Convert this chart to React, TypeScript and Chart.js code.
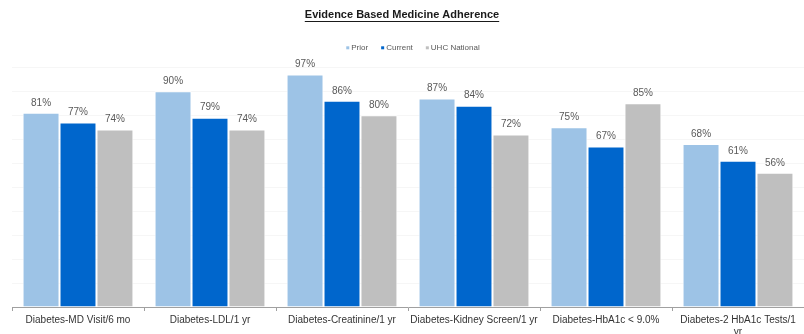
import React, { useEffect, useRef } from "react";
import { Chart, registerables } from "chart.js";

Chart.register(...registerables);

const FONT = '"Liberation Sans", Arial, Helvetica, sans-serif';

const chartTitle = "Evidence Based Medicine Adherence";
const categories: (string | string[])[] = [
  "Diabetes-MD Visit/6 mo",
  "Diabetes-LDL/1 yr",
  "Diabetes-Creatinine/1 yr",
  "Diabetes-Kidney Screen/1 yr",
  "Diabetes-HbA1c < 9.0%",
  ["Diabetes-2 HbA1c Tests/1", "yr"],
];
const seriesNames = ["Prior", "Current", "UHC National"];
const priorValues = [81, 90, 97, 87, 75, 68];
const currentValues = [77, 79, 86, 84, 67, 61];
const nationalValues = [74, 74, 80, 72, 85, 56];
const seriesColors = ["#9DC3E6", "#0066CC", "#BFBFBF"];

// Underline under the chart title
const titleUnderline = {
  id: "titleUnderline",
  afterDraw(chart: any) {
    const tb = chart.titleBlock;
    if (!tb) return;
    const opts = chart.options.plugins.title;
    const ctx = chart.ctx;
    ctx.save();
    ctx.font = `bold ${opts.font.size}px ${FONT}`;
    const w = ctx.measureText(chartTitle).width;
    const cx = (tb.left + tb.right) / 2;
    const midY = tb.top + opts.padding.top + (opts.font.size * 1.2) / 2;
    const y = Math.round(midY + opts.font.size * 0.55) + 0.5;
    ctx.strokeStyle = "#1a1a1a";
    ctx.lineWidth = 1;
    ctx.beginPath();
    ctx.moveTo(cx - w / 2, y);
    ctx.lineTo(cx + w / 2, y);
    ctx.stroke();
    ctx.restore();
  },
};

// Compact legend row with tiny square markers
const legendRow = {
  id: "legendRow",
  afterDraw(chart: any) {
    const ctx = chart.ctx;
    const area = chart.chartArea;
    ctx.save();
    ctx.font = `8px ${FONT}`;
    ctx.textBaseline = "middle";
    ctx.textAlign = "left";
    const box = 3;
    const gap = 2;
    const spacing = 13;
    const items = chart.data.datasets.map((ds: any) => ({
      label: ds.label as string,
      color: ds.backgroundColor as string,
      w: box + gap + ctx.measureText(ds.label).width,
    }));
    const total =
      items.reduce((s: number, it: any) => s + it.w, 0) +
      spacing * (items.length - 1);
    let x = (area.left + area.right) / 2 + 5 - total / 2;
    const y = area.top - 19.5;
    for (const it of items) {
      ctx.fillStyle = it.color;
      ctx.fillRect(x, y - box / 2, box, box);
      ctx.fillStyle = "#595959";
      ctx.fillText(it.label, x + box + gap, y);
      x += it.w + spacing;
    }
    ctx.restore();
  },
};

// Percentage labels above each bar
const valueLabels = {
  id: "valueLabels",
  afterDatasetsDraw(chart: any) {
    const ctx = chart.ctx;
    ctx.save();
    ctx.font = `10px ${FONT}`;
    ctx.fillStyle = "#595959";
    ctx.textAlign = "center";
    ctx.textBaseline = "bottom";
    chart.data.datasets.forEach((ds: any, i: number) => {
      const meta = chart.getDatasetMeta(i);
      meta.data.forEach((bar: any, j: number) => {
        ctx.fillText(`${ds.data[j]}%`, bar.x, bar.y - 5);
      });
    });
    ctx.restore();
  },
};

export default function App() {
  const canvasRef = useRef<HTMLCanvasElement | null>(null);

  useEffect(() => {
    if (!canvasRef.current) return;
    const seriesData = [priorValues, currentValues, nationalValues];
    const chart = new Chart(canvasRef.current, {
      type: "bar",
      data: {
        labels: categories,
        datasets: seriesNames.map((name, i) => ({
          label: name,
          data: seriesData[i],
          backgroundColor: seriesColors[i],
          borderColor: "#ffffff",
          borderWidth: 1,
          barPercentage: 1,
          categoryPercentage: 0.84,
        })),
      },
      options: {
        animation: false,
        responsive: true,
        maintainAspectRatio: false,
        layout: { padding: { left: 0, right: 0, top: 0, bottom: 0 } },
        plugins: {
          legend: { display: false },
          tooltip: { enabled: false },
          title: {
            display: true,
            text: chartTitle,
            color: "#1a1a1a",
            font: { family: FONT, size: 11, weight: "bold", lineHeight: 1.2 },
            padding: { top: 8.4, bottom: 45.7 },
          },
        },
        scales: {
          x: {
            grid: {
              display: true,
              drawOnChartArea: false,
              drawTicks: true,
              tickLength: 4,
              color: "#A0A0A0",
              offset: true,
            },
            border: { display: true, color: "#A0A0A0" },
            ticks: {
              color: "#333333",
              font: { family: FONT, size: 10, lineHeight: 1.2 },
              maxRotation: 0,
              autoSkip: false,
              padding: 3,
            },
          },
          y: {
            min: 0,
            max: 100,
            afterFit: (scale: any) => {
              scale.width = 12;
            },
            ticks: { display: false, stepSize: 10 },
            border: { display: false },
            grid: { color: "#F6F6F6", drawTicks: false, lineWidth: 1 },
          },
        },
      },
      plugins: [titleUnderline, legendRow, valueLabels],
    });
    return () => chart.destroy();
  }, []);

  return (
    <div
      style={{
        position: "absolute",
        left: 0,
        top: 0,
        width: 804,
        height: 334,
        overflow: "hidden",
        background: "#ffffff",
      }}
    >
      <div style={{ position: "relative", width: 804, height: 341 }}>
        <canvas ref={canvasRef} />
      </div>
    </div>
  );
}
